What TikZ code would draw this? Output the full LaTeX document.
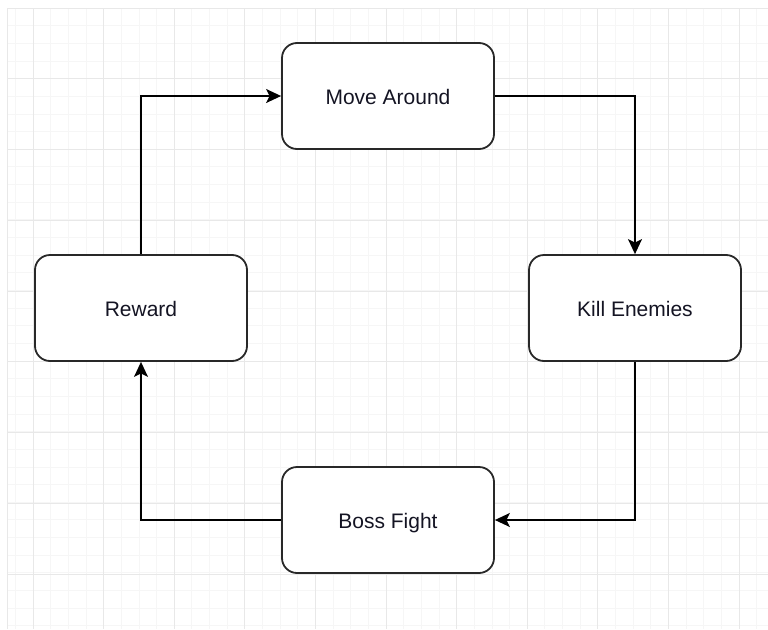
\documentclass[tikz,border=0pt]{standalone}
\usepackage{fontspec}
\setmainfont{Liberation Sans}
\usetikzlibrary{arrows.meta}
\definecolor{minorgrid}{RGB}{246,246,246}
\definecolor{majorgrid}{RGB}{232,232,232}
\definecolor{boxline}{RGB}{40,40,40}
\definecolor{txt}{RGB}{20,20,35}
\tikzset{
  stepbox/.style={draw=boxline, line width=1.8pt, rounded corners=15pt, fill=white,
    minimum width=212pt, minimum height=106pt, inner sep=0pt,
    text height=17pt, text depth=0pt,
    font=\fontsize{21}{25}\selectfont, text=txt},
  conn/.style={draw=black, line width=1.5pt, -{Stealth[length=15pt,width=14pt,inset=3.5pt]}}
}
\begin{document}
\begin{tikzpicture}[x=1pt,y=-1pt]
\useasboundingbox (0,0) rectangle (768,629);
\fill[white] (0,0) rectangle (768,629);
% minor grid
\foreach \i in {0,...,43} {
  \draw[minorgrid, line width=0.8pt] ({15.35+\i*17.65},8) -- ({15.35+\i*17.65},629);
}
\foreach \j in {0,...,35} {
  \draw[minorgrid, line width=0.8pt] (7,{8+\j*17.65}) -- (768,{8+\j*17.65});
}
% major grid
\foreach \i in {0,...,10} {
  \draw[majorgrid, line width=0.9pt] ({33+\i*70.6},8) -- ({33+\i*70.6},629);
}
\foreach \j in {0,...,8} {
  \draw[majorgrid, line width=0.9pt] (7,{8+\j*70.75}) -- (768,{8+\j*70.75});
}
\draw[majorgrid, line width=0.8pt] (7,8) -- (7,629);
% nodes
\node[stepbox] (move) at (388,96) {Move Around};
\node[stepbox] (kill) at (635,308) {Kill Enemies};
\node[stepbox] (boss) at (388,520) {Boss Fight};
\node[stepbox] (reward) at (141,308) {Reward};
% connectors
\draw[conn] (move.east) -| (kill.north);
\draw[conn] (kill.south) |- (boss.east);
\draw[conn] (boss.west) -| (reward.south);
\draw[conn] (reward.north) |- (move.west);
\end{tikzpicture}
\end{document}
